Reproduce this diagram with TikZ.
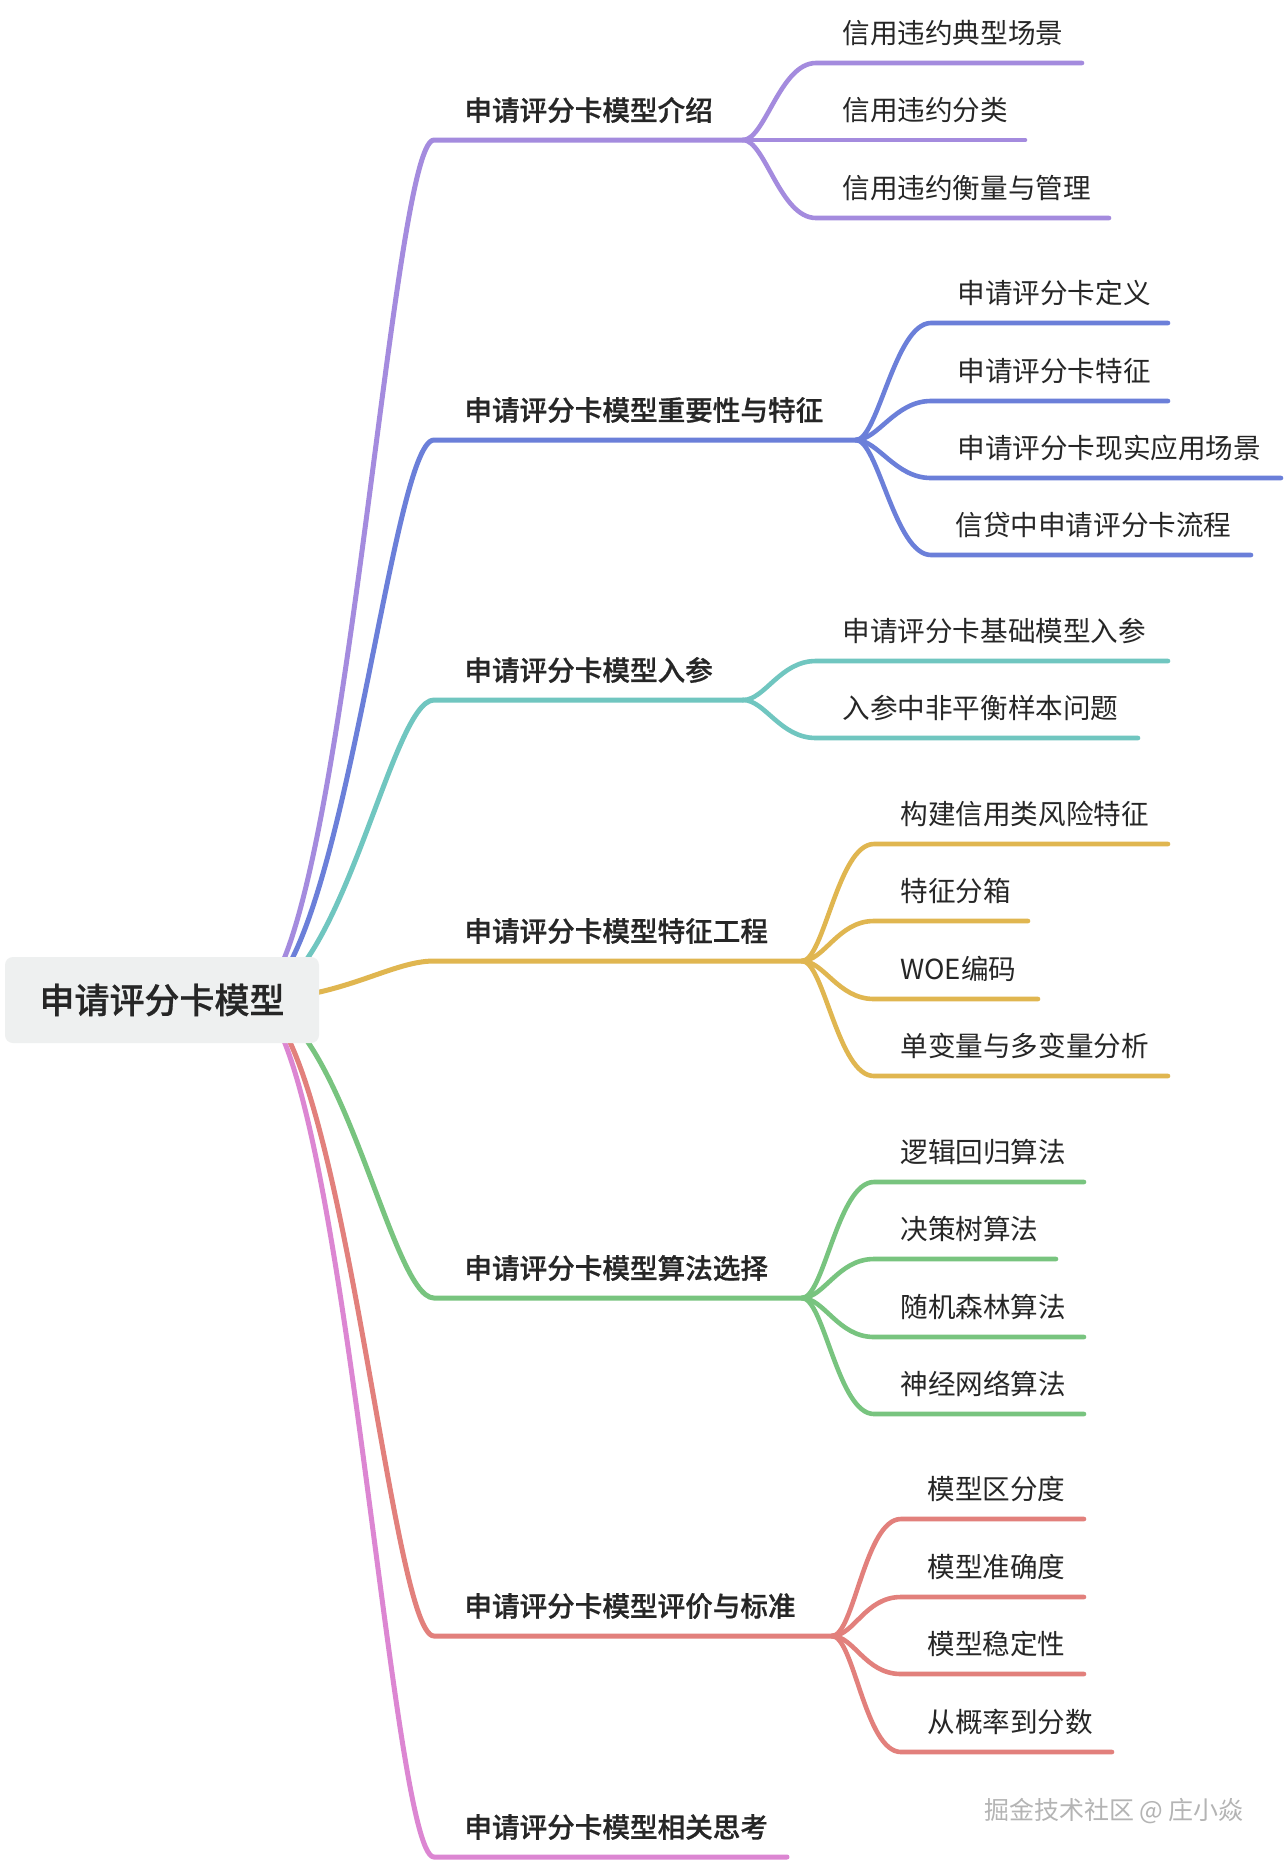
\documentclass[tikz,border=0pt]{standalone}
\usepackage{fontspec}
\IfFontExistsTF{Noto Sans CJK SC Medium}
  {\setmainfont{Noto Sans CJK SC}[BoldFont={Noto Sans CJK SC Medium}, BoldFeatures={FakeBold=0.7}]}
  {\setmainfont{Noto Sans CJK SC}}
\usepackage{tikz}
\usetikzlibrary{positioning, calc, backgrounds}
\definecolor{ink}{HTML}{262626}
\definecolor{rootbg}{HTML}{EEF0F0}
\definecolor{brPurple}{HTML}{A48BDE}
\definecolor{brBlue}{HTML}{6B7FD9}
\definecolor{brTeal}{HTML}{70C6C0}
\definecolor{brYellow}{HTML}{E0B650}
\definecolor{brGreen}{HTML}{78C47F}
\definecolor{brRed}{HTML}{E2807C}
\definecolor{brPink}{HTML}{DC86D2}
\definecolor{wmgray}{HTML}{B4B4B4}

\begin{document}
\begin{tikzpicture}[
  x=0.5pt, y=-0.5pt,
  every node/.style={text=ink},
  root/.style={
    rectangle, rounded corners=4pt, fill=rootbg, inner sep=0pt,
    minimum width=157pt, minimum height=43pt,
    font=\fontsize{17.5pt}{20pt}\selectfont\bfseries,
  },
  topic/.style={anchor=west, inner sep=0pt, font=\fontsize{13.8pt}{16pt}\selectfont\bfseries},
  leaf/.style={anchor=west, inner sep=0pt, font=\fontsize{13.8pt}{16pt}\selectfont},
  branch/.style={line width=2.5pt, line cap=round},
  twig/.style={line width=2.3pt, line cap=round},
  watermark/.style={text=wmgray, font=\fontsize{12.5pt}{14pt}\selectfont},
]
\useasboundingbox (0,0) rectangle (1284,1864);

% centre
\node[root] (root) at (162,1000) {申请评分卡模型};
\coordinate (hub) at ([xshift=-34.5pt]root.east);

% first level
\node[topic] (t1) at (464,110)  {申请评分卡模型介绍};
\node[topic] (t2) at (464,410)  {申请评分卡模型重要性与特征};
\node[topic] (t3) at (464,670)  {申请评分卡模型入参};
\node[topic] (t4) at (464,931)  {申请评分卡模型特征工程};
\node[topic] (t5) at (464,1268) {申请评分卡模型算法选择};
\node[topic] (t6) at (464,1606) {申请评分卡模型评价与标准};
\node[topic] (t7) at (464,1827) {申请评分卡模型相关思考};
\coordinate (t1e) at (743,140);
\coordinate (t2e) at (856,440);
\coordinate (t3e) at (743,700);
\coordinate (t4e) at (802,961);
\coordinate (t5e) at (802,1298);
\coordinate (t6e) at (832,1636);
\coordinate (t7e) at (787,1857);

% second level
\node[leaf] (t1a) at (842,33)   {信用违约典型场景};    \coordinate (t1ae) at (1082,63);
\node[leaf] (t1b) at (842,110)  {信用违约分类};        \coordinate (t1be) at (1025,140);
\node[leaf] (t1c) at (842,188)  {信用违约衡量与管理};  \coordinate (t1ce) at (1109,218);

\node[leaf] (t2a) at (957,293)  {申请评分卡定义};        \coordinate (t2ae) at (1168,323);
\node[leaf] (t2b) at (957,371)  {申请评分卡特征};        \coordinate (t2be) at (1168,401);
\node[leaf] (t2c) at (957,448)  {申请评分卡现实应用场景}; \coordinate (t2ce) at (1281,478);
\node[leaf] (t2d) at (955,525)  {信贷中申请评分卡流程};   \coordinate (t2de) at (1251,555);

\node[leaf] (t3a) at (842,631)  {申请评分卡基础模型入参}; \coordinate (t3ae) at (1168,661);
\node[leaf] (t3b) at (842,708)  {入参中非平衡样本问题};   \coordinate (t3be) at (1138,738);

\node[leaf] (t4a) at (900,814)  {构建信用类风险特征};    \coordinate (t4ae) at (1168,844);
\node[leaf] (t4b) at (900,891)  {特征分箱};              \coordinate (t4be) at (1028,921);
\node[leaf] (t4c) at (900,969)  {WOE编码};               \coordinate (t4ce) at (1038,999);
\node[leaf] (t4d) at (900,1046) {单变量与多变量分析};    \coordinate (t4de) at (1168,1076);

\node[leaf] (t5a) at (900,1152) {逻辑回归算法};          \coordinate (t5ae) at (1084,1182);
\node[leaf] (t5b) at (900,1229) {决策树算法};            \coordinate (t5be) at (1056,1259);
\node[leaf] (t5c) at (900,1307) {随机森林算法};          \coordinate (t5ce) at (1084,1337);
\node[leaf] (t5d) at (900,1384) {神经网络算法};          \coordinate (t5de) at (1084,1414);

\node[leaf] (t6a) at (927,1489) {模型区分度};            \coordinate (t6ae) at (1084,1519);
\node[leaf] (t6b) at (927,1567) {模型准确度};            \coordinate (t6be) at (1084,1597);
\node[leaf] (t6c) at (927,1644) {模型稳定性};            \coordinate (t6ce) at (1084,1674);
\node[leaf] (t6d) at (927,1722) {从概率到分数};          \coordinate (t6de) at (1112,1752);

\node[watermark] (wm) at (1114,1811) {掘金技术社区 @ 庄小焱};

\begin{scope}[on background layer]
\fill[white] (0,0) rectangle (1284,1864);

% root to topics
\draw[branch, brPurple] (hub) .. controls +(90,0) and +(-44,0) .. ([shift={(-30,30)}]t1.west) -- (t1e);
\draw[branch, brBlue]   (hub) .. controls +(90,0) and +(-44,0) .. ([shift={(-30,30)}]t2.west) -- (t2e);
\draw[branch, brTeal]   (hub) .. controls +(90,0) and +(-44,0) .. ([shift={(-30,30)}]t3.west) -- (t3e);
\draw[branch, brYellow] (hub) .. controls +(90,0) and +(-44,0) .. ([shift={(-30,30)}]t4.west) -- (t4e);
\draw[branch, brGreen]  (hub) .. controls +(90,0) and +(-44,0) .. ([shift={(-30,30)}]t5.west) -- (t5e);
\draw[branch, brRed]    (hub) .. controls +(90,0) and +(-44,0) .. ([shift={(-30,30)}]t6.west) -- (t6e);
\draw[branch, brPink]   (hub) .. controls +(90,0) and +(-44,0) .. ([shift={(-30,30)}]t7.west) -- (t7e);

% topics to leaves
\draw[twig, brPurple] (t1e) .. controls +(22,0) and +(-36,0) .. ([shift={(-26,30)}]t1a.west) -- (t1ae);
\draw[twig, brPurple] (t1e) -- (t1be);
\draw[twig, brPurple] (t1e) .. controls +(22,0) and +(-36,0) .. ([shift={(-26,30)}]t1c.west) -- (t1ce);

\draw[twig, brBlue] (t2e) .. controls +(22,0) and +(-36,0) .. ([shift={(-26,30)}]t2a.west) -- (t2ae);
\draw[twig, brBlue] (t2e) .. controls +(22,0) and +(-36,0) .. ([shift={(-26,30)}]t2b.west) -- (t2be);
\draw[twig, brBlue] (t2e) .. controls +(22,0) and +(-36,0) .. ([shift={(-26,30)}]t2c.west) -- (t2ce);
\draw[twig, brBlue] (t2e) .. controls +(22,0) and +(-36,0) .. ([shift={(-24,30)}]t2d.west) -- (t2de);

\draw[twig, brTeal] (t3e) .. controls +(22,0) and +(-36,0) .. ([shift={(-26,30)}]t3a.west) -- (t3ae);
\draw[twig, brTeal] (t3e) .. controls +(22,0) and +(-36,0) .. ([shift={(-26,30)}]t3b.west) -- (t3be);

\draw[twig, brYellow] (t4e) .. controls +(22,0) and +(-36,0) .. ([shift={(-26,30)}]t4a.west) -- (t4ae);
\draw[twig, brYellow] (t4e) .. controls +(22,0) and +(-36,0) .. ([shift={(-26,30)}]t4b.west) -- (t4be);
\draw[twig, brYellow] (t4e) .. controls +(22,0) and +(-36,0) .. ([shift={(-26,30)}]t4c.west) -- (t4ce);
\draw[twig, brYellow] (t4e) .. controls +(22,0) and +(-36,0) .. ([shift={(-26,30)}]t4d.west) -- (t4de);

\draw[twig, brGreen] (t5e) .. controls +(22,0) and +(-36,0) .. ([shift={(-26,30)}]t5a.west) -- (t5ae);
\draw[twig, brGreen] (t5e) .. controls +(22,0) and +(-36,0) .. ([shift={(-26,30)}]t5b.west) -- (t5be);
\draw[twig, brGreen] (t5e) .. controls +(22,0) and +(-36,0) .. ([shift={(-26,30)}]t5c.west) -- (t5ce);
\draw[twig, brGreen] (t5e) .. controls +(22,0) and +(-36,0) .. ([shift={(-26,30)}]t5d.west) -- (t5de);

\draw[twig, brRed] (t6e) .. controls +(22,0) and +(-36,0) .. ([shift={(-26,30)}]t6a.west) -- (t6ae);
\draw[twig, brRed] (t6e) .. controls +(22,0) and +(-36,0) .. ([shift={(-26,30)}]t6b.west) -- (t6be);
\draw[twig, brRed] (t6e) .. controls +(22,0) and +(-36,0) .. ([shift={(-26,30)}]t6c.west) -- (t6ce);
\draw[twig, brRed] (t6e) .. controls +(22,0) and +(-36,0) .. ([shift={(-26,30)}]t6d.west) -- (t6de);
\end{scope}
\end{tikzpicture}
\end{document}
